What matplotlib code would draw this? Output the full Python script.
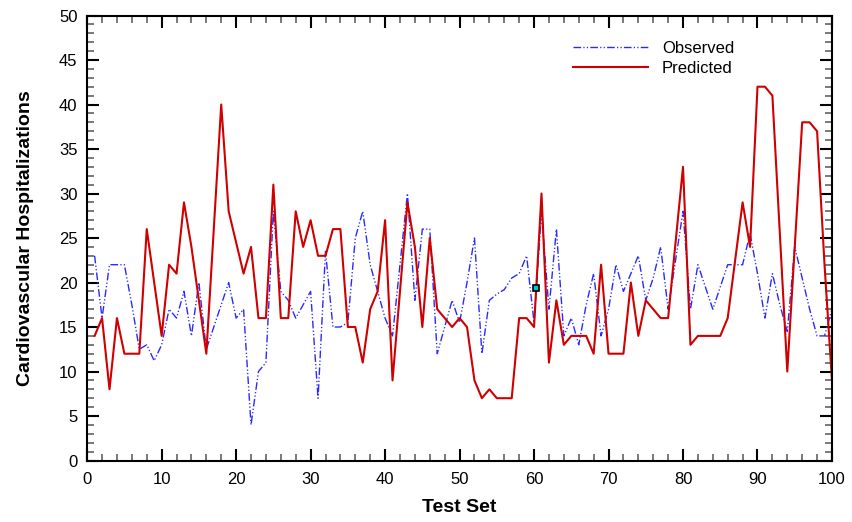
import matplotlib
matplotlib.use("Agg")
import matplotlib.pyplot as plt
from matplotlib.ticker import MultipleLocator

test_set = list(range(1, 101))

observed = [23, 16, 22, 22, 22, 17.5, 12.5, 13, 11.2, 13,
            17, 16, 19, 14, 20, 12.5, 15, 17.5, 20, 16,
            17, 4, 10, 11, 28, 19, 18, 16, 17.5, 19,
            7, 23.5, 15, 15, 15.5, 25, 28, 22, 19, 16,
            14, 22, 30, 18, 26, 26, 12, 15, 18, 15.5,
            20, 25, 12, 18, 18.7, 19.2, 20.5, 21, 23, 15.5,
            28, 17, 26, 14, 16, 13, 17.5, 21, 14, 17,
            22, 19, 21, 23, 18, 20.5, 24, 17, 22.5, 28,
            17, 22, 19.5, 17, 19.5, 22, 22, 22, 25.5, 21,
            16, 21, 17.5, 14.5, 24, 20.5, 17, 14, 14, 17]

predicted = [14, 16, 8, 16, 12, 12, 12, 26, 20, 14,
             22, 21, 29, 24, 18, 12, 26, 40, 28, 24.5,
             21, 24, 16, 16, 31, 16, 16, 28, 24, 27,
             23, 23, 26, 26, 15, 15, 11, 17, 19, 27,
             9, 19, 29, 24, 15, 25, 17, 16, 15, 16,
             15, 9, 7, 8, 7, 7, 7, 16, 16, 15,
             30, 11, 18, 13, 14, 14, 14, 12, 22, 12,
             12, 12, 20, 14, 18, 17, 16, 16, 24.5, 33,
             13, 14, 14, 14, 14, 16, 22.5, 29, 24, 42,
             42, 41, 25.5, 10, 24, 38, 38, 37, 22, 9]

marker_x = [60.2]
marker_y = [19.4]

x_ticks = list(range(0, 101, 10))
y_ticks = list(range(0, 51, 5))

plt.rcParams['font.family'] = ['Liberation Sans', 'DejaVu Sans']

fig = plt.figure(figsize=(8.52, 5.22), dpi=100)
ax = fig.add_axes([0.1023, 0.1178, 0.8742, 0.8525])

ax.plot(test_set, observed, color='#2a2aff', linewidth=1.0,
        linestyle=(0, (5.5, 1.6, 0.9, 1.6, 0.9, 1.6)), label='Observed')
ax.plot(test_set, predicted, color='#d00000', linewidth=1.5,
        linestyle='-', label='Predicted')
ax.plot(marker_x, marker_y, linestyle='none', marker='s', markersize=5,
        markerfacecolor='#00c8c8', markeredgecolor='black', markeredgewidth=1.2)

ax.set_xlim(0, 100)
ax.set_ylim(0, 50)
ax.set_xticks(x_ticks)
ax.set_yticks(y_ticks)
ax.xaxis.set_minor_locator(MultipleLocator(2))
ax.yaxis.set_minor_locator(MultipleLocator(1))
ax.tick_params(which='major', direction='in', length=8.6, width=1.5,
               top=True, right=True, labelsize=12, colors='black')
ax.tick_params(axis='x', which='major', pad=8)
ax.tick_params(axis='y', which='major', pad=7)
ax.tick_params(which='minor', direction='in', length=5, width=1.1,
               top=True, right=True, color='#555555')
for s in ax.spines.values():
    s.set_linewidth(1.5)

ax.set_xlabel('Test Set', fontsize=14, fontweight='bold', labelpad=9)
ax.set_ylabel('Cardiovascular Hospitalizations', fontsize=14, fontweight='bold', labelpad=18)

leg = ax.legend(loc='upper left', bbox_to_anchor=(0.652, 0.942), frameon=False,
                fontsize=12, handlelength=4.5, handletextpad=0.85,
                labelspacing=0.3, borderpad=0, borderaxespad=0)

fig.savefig('out.png', dpi=100)
